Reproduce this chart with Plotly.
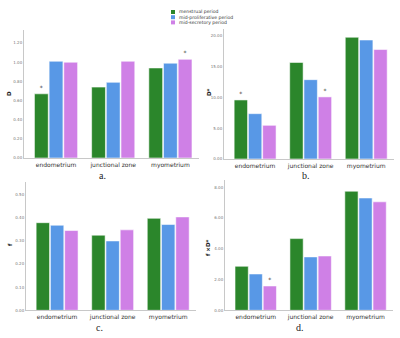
import plotly.graph_objects as go

categories = ["endometrium", "junctional zone", "myometrium"]
series_names = ["menstrual period", "mid-proliferative period", "mid-secretory period"]
colors = ["#2b862b", "#5898e6", "#cf80e6"]

# panel a: D
a_menstrual = [0.67, 0.74, 0.94]
a_prolif = [1.01, 0.79, 0.99]
a_secret = [1.00, 1.01, 1.03]
a_sig = [["*", "", ""], ["", "", ""], ["", "", "*"]]

# panel b: D*
b_menstrual = [9.6, 15.7, 19.8]
b_prolif = [7.37, 12.9, 19.35]
b_secret = [5.48, 10.1, 17.8]
b_sig = [["*", "", ""], ["", "", ""], ["", "*", ""]]

# panel c: f
c_menstrual = [0.379, 0.325, 0.398]
c_prolif = [0.368, 0.300, 0.371]
c_secret = [0.345, 0.348, 0.404]
c_sig = [["", "", ""], ["", "", ""], ["", "", ""]]

# panel d: f x D*
d_menstrual = [2.86, 4.66, 7.74]
d_prolif = [2.36, 3.47, 7.30]
d_secret = [1.58, 3.53, 7.05]
d_sig = [["", "", ""], ["", "", ""], ["*", "", ""]]

a_ticks = [0, 0.2, 0.4, 0.6, 0.8, 1.0, 1.2]
b_ticks = [0, 5, 10, 15, 20]
c_ticks = [0, 0.1, 0.2, 0.3, 0.4, 0.5]
d_ticks = [0, 2, 4, 6, 8]

panels = [
    dict(series=[a_menstrual, a_prolif, a_secret], sig=a_sig, ticks=a_ticks, ytitle="D",
         yrange=[0, 1.336], xdom=[0.06, 0.4975], ydom=[0.5325, 0.9112], label="a.", lab=(102, 175), yt=(9, 94)),
    dict(series=[b_menstrual, b_prolif, b_secret], sig=b_sig, ticks=b_ticks, ytitle="D*",
         yrange=[0, 21.14], xdom=[0.56, 0.985], ydom=[0.5296, 0.9142], label="b.", lab=(306, 175), yt=(209, 92)),
    dict(series=[c_menstrual, c_prolif, c_secret], sig=c_sig, ticks=c_ticks, ytitle="f",
         yrange=[0, 0.555], xdom=[0.065, 0.49], ydom=[0.082, 0.4615], label="c.", lab=(99, 327), yt=(10, 245)),
    dict(series=[d_menstrual, d_prolif, d_secret], sig=d_sig, ticks=d_ticks, ytitle="f ×D*",
         yrange=[0, 8.47], xdom=[0.5625, 0.9825], ydom=[0.082, 0.4675], label="d.", lab=(300, 327), yt=(208, 248)),
]

fig = go.Figure()
annotations = []
layout = dict(
    width=400, height=338, margin=dict(l=0, r=0, t=0, b=0, autoexpand=False),
    paper_bgcolor="white", plot_bgcolor="white", showlegend=False,
    barmode="group", bargap=0.23, bargroupgap=0.06,
    font=dict(family="DejaVu Sans", color="#222"),
)

for i, p in enumerate(panels):
    n = "" if i == 0 else str(i + 1)
    for s, (vals, name, col) in enumerate(zip(p["series"], series_names, colors)):
        fig.add_trace(go.Bar(
            x=categories, y=vals, name=name, marker=dict(color=col, line=dict(color="rgba(255,255,255,0.55)", width=1)),
            text=p["sig"][s], textposition="outside", textfont=dict(size=6, color="#333"),
            cliponaxis=False, xaxis="x" + n, yaxis="y" + n, hoverinfo="skip",
        ))
    layout["xaxis" + n] = dict(domain=p["xdom"], anchor="y" + n, range=[-0.56, 2.5], automargin=False,
                              showline=True, linecolor="#c8c8c8", linewidth=1, ticks="", ticklabelstandoff=1,
                              tickfont=dict(family="DejaVu Sans", size=6, color="#333"), showgrid=False, fixedrange=True)
    layout["yaxis" + n] = dict(domain=p["ydom"], anchor="x" + n, range=p["yrange"], automargin=False,
                              tickvals=p["ticks"], tickformat=".2f", showline=True, linecolor="#c8c8c8",
                              linewidth=1, ticks="", showgrid=False, zeroline=False,
                              tickfont=dict(size=4, color="#777"), fixedrange=True)
    annotations.append(dict(text=p["label"], x=p["lab"][0] / 400, y=1 - p["lab"][1] / 338, xref="paper", yref="paper",
                            xanchor="center", yanchor="middle",
                            showarrow=False, font=dict(family="Liberation Serif", size=10, color="#222")))
    annotations.append(dict(text="<b>" + p["ytitle"] + "</b>", x=p["yt"][0] / 400, y=1 - p["yt"][1] / 338,
                            xref="paper", yref="paper", textangle=-90, showarrow=False,
                            xanchor="center", yanchor="middle", font=dict(size=5.5, color="#222")))

# manual compact legend
shapes = []
for k, (name, col) in enumerate(zip(series_names, colors)):
    y0 = 10 + k * 5.2
    shapes.append(dict(type="rect", xref="paper", yref="paper", x0=171 / 400, x1=175 / 400,
                       y0=1 - (y0 + 4) / 338, y1=1 - y0 / 338, fillcolor=col, line=dict(width=0)))
    annotations.append(dict(text=name, x=176.5 / 400, y=1 - (y0 + 2) / 338, xref="paper", yref="paper",
                            xanchor="left", yanchor="middle", showarrow=False, font=dict(size=4.6, color="#333")))

layout["annotations"] = annotations
layout["shapes"] = shapes
fig.update_layout(**layout)
fig.write_html("out.html", config={"displayModeBar": False},
               post_script="document.body.style.margin='0';document.body.style.padding='0';")
